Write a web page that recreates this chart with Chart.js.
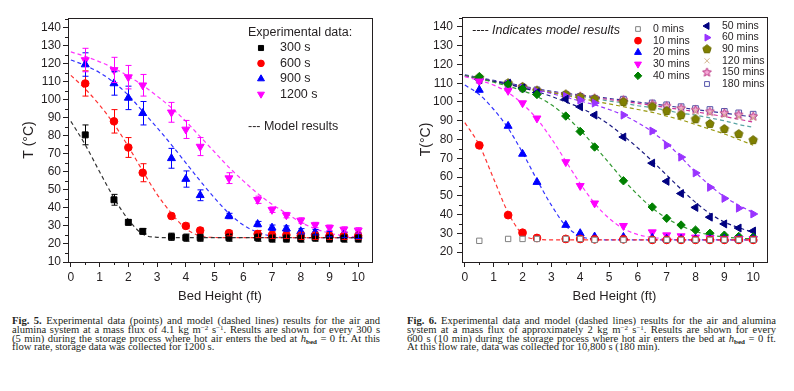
<!DOCTYPE html>
<html>
<head>
<meta charset="utf-8">
<script src="https://cdn.jsdelivr.net/npm/chart.js@4.4.1/dist/chart.umd.min.js"></script>
<style>
  body { margin: 0; background: #fff; width: 794px; height: 391px; overflow: hidden; position: relative; }
  canvas { position: absolute; top: 0; }
  #c5 { left: 0; }
  #c6 { left: 397px; }
  .cap { position: absolute; top: 317px; font-family: "Liberation Serif", "Times New Roman", serif; font-size: 10.6px; line-height: 8.8px; color: #231f20; }
  .cap div { text-align: justify; text-align-last: justify; height: 8.8px; white-space: nowrap; }
  .cap div.last { text-align-last: left; }
  .cap sup { font-size: 7px; line-height: 0; vertical-align: 3px; }
  .cap sub { font-size: 7px; line-height: 0; vertical-align: -1.5px; font-weight: bold; }
</style>
</head>
<body>
<canvas id="c5" width="397" height="305"></canvas>
<canvas id="c6" width="397" height="305"></canvas>

<div class="cap" style="left:12px; width:368px;">
  <div><b>Fig. 5.</b> Experimental data (points) and model (dashed lines) results for the air and</div>
  <div>alumina system at a mass flux of 4.1 kg m<sup>−2</sup> s<sup>−1</sup>. Results are shown for every 300 s</div>
  <div>(5 min) during the storage process where hot air enters the bed at <i>h</i><sub>bed</sub> = 0 ft. At this</div>
  <div class="last">flow rate, storage data was collected for 1200 s.</div>
</div>
<div class="cap" style="left:407px; width:369px;">
  <div><b>Fig. 6.</b> Experimental data and model (dashed lines) results for the air and alumina</div>
  <div>system at a mass flux of approximately 2 kg m<sup>−2</sup> s<sup>−1</sup>. Results are shown for every</div>
  <div>600 s (10 min) during the storage process where hot air enters the bed at <i>h</i><sub>bed</sub> = 0 ft.</div>
  <div class="last">At this flow rate, data was collected for 10,800 s (180 min).</div>
</div>

<script>
// ---- data ----
const ptX = [0.5, 1.5, 2, 2.5, 3.5, 4, 4.5, 5.5, 6.5, 7, 7.5, 8, 8.5, 9, 9.5, 10];
const modelX = [0, 0.5, 1, 1.5, 2, 2.5, 3, 3.5, 4, 4.5, 5, 5.5, 6, 6.5, 7, 7.5, 8, 8.5, 9, 9.5, 10];
const xTicks = [0, 1, 2, 3, 4, 5, 6, 7, 8, 9, 10];
const yTicks5 = [10, 20, 30, 40, 50, 60, 70, 80, 90, 100, 110, 120, 130, 140];
const yTicks6 = [20, 30, 40, 50, 60, 70, 80, 90, 100, 110, 120, 130, 140];

// Fig. 5 (experimental, with error bars)
const t300 = [80.5, 44.5, 32, 27, 24, 23.5, 23.5, 23.5, 23.5, 23, 23, 23, 23.5, 23, 23, 23];
const e300 = [5.5, 3, 1.5, 1.5, 2, 2, 2, 2, 2, 2, 2, 2, 2, 2, 2, 2];
const t600 = [109, 88, 73.5, 59.5, 35.5, 30, 27.5, 26, 25.5, 25, 25, 24.5, 24.5, 24.5, 24.5, 24.5];
const e600 = [7, 6.5, 5.5, 5, 1.5, 1.5, 1.5, 1.5, 2, 2, 2, 2, 2, 2, 2, 2];
const t900 = [119.5, 109, 101, 92.5, 67.5, 56, 47, 35.5, 31, 29, 28.5, 27, 26.5, 25.5, 25, 24.5];
const e900 = [6.5, 6.5, 6.5, 6.5, 5.5, 4.5, 3, 1.5, 1.5, 1.5, 1.5, 1.5, 1.5, 1.5, 1.5, 1.5];
const t1200 = [122, 116.5, 112.5, 108, 93, 83.5, 74, 56.5, 44.5, 39, 36, 33, 30.5, 29, 28, 27.5];
const e1200 = [6.5, 7, 6.5, 6, 5.5, 5, 5, 3, 2, 1.5, 1.5, 1.5, 1.5, 1.5, 1.5, 1.5];
// Fig. 5 model
const m300 = [88, 75, 60, 45.5, 33.5, 25.5, 23.7, 23.5, 23.5, 23.5, 23.5, 23.5, 23.5, 23.5, 23.5, 23.5, 23.5, 23.5, 23.5, 23.5, 23.5];
const m600 = [113.5, 106, 97, 86.5, 74, 60.5, 47.5, 37, 28.5, 24.5, 23.6, 23.5, 23.5, 23.5, 23.5, 23.5, 23.5, 23.5, 23.5, 23.5, 23.5];
const m900 = [122, 119, 115, 109.5, 102.5, 93.5, 84.5, 75, 65, 55, 45.5, 37, 30.5, 26.5, 24.3, 23.6, 23.5, 23.5, 23.5, 23.5, 23.5];
const m1200 = [126.5, 124, 121, 117.5, 113, 108, 102, 95.5, 88, 79.5, 71, 62.5, 55, 48, 42, 37, 32, 28.5, 26, 24.5, 23.8];

// Fig. 6 (experimental)
const d0 = [26, 27, 27, 27, 27, 27, 26.5, 26.5, 26.5, 26.5, 26.5, 26.5, 26.5, 26.5, 26.5, 26.5];
const d10 = [76.9, 39.7, 30.3, 27.5, 27, 27, 26.8, 26.8, 26.5, 26.5, 26.5, 26.5, 26.5, 26.5, 26.5, 26.5];
const d20 = [106.4, 87.2, 72.3, 57.3, 34.4, 30, 28.2, 28, 27.5, 27, 27, 27, 27, 27, 27, 27];
const d30 = [111, 106, 99.4, 91.3, 68, 55.3, 46, 34, 30.6, 29, 28.5, 27.8, 27.5, 27, 27, 27];
const d40 = [113.5, 109.5, 107, 104, 92.5, 84.3, 76, 58, 44, 38, 34.4, 31.7, 30, 29, 28.3, 28];
const d50 = [112, 110, 107.5, 105, 101.5, 97.4, 93, 81.3, 67.4, 57.7, 51.2, 43.8, 38.6, 35, 32.8, 31.2];
const d60 = [112, 109.5, 107.5, 105.5, 103, 101, 99.4, 93, 84.5, 77, 70.6, 62.2, 54.5, 48.6, 43.4, 40.3];
const d90 = [113, 110, 108, 106, 104, 102.5, 101.5, 100, 97.5, 95.2, 93, 90.8, 88.3, 85.6, 82.9, 79.7];
const d120 = [112.5, 109.5, 107.5, 105.5, 103.5, 102.5, 101.5, 100.5, 98, 97, 96, 95, 94, 93, 92, 91.5];
const d150 = [112, 109.5, 108, 106, 104, 103, 102, 101, 98.8, 97.8, 96.6, 95.7, 94.8, 94, 93.1, 92.3];
const d180 = [112.5, 110, 108, 106.5, 104, 103, 102, 101.5, 99.5, 98.5, 97.5, 96.5, 96, 95, 94.2, 93.5];
// Fig. 6 model
const r10 = [89, 77, 59, 41, 29.5, 26.8, 26.5, 26.5, 26.5, 26.5, 26.5, 26.5, 26.5, 26.5, 26.5, 26.5, 26.5, 26.5, 26.5, 26.5, 26.5];
const r20 = [109, 104, 96, 86, 73, 58.5, 45, 34, 28.5, 26.8, 26.5, 26.5, 26.5, 26.5, 26.5, 26.5, 26.5, 26.5, 26.5, 26.5, 26.5];
const r30 = [113.5, 111.5, 109, 105, 99, 91, 80.5, 68.5, 56.5, 46, 38, 32.5, 29.3, 27.8, 27, 26.5, 26.5, 26.5, 26.5, 26.5, 26.5];
const r40 = [114, 112.5, 110.5, 108.5, 106, 103, 98.5, 92.5, 85, 76.5, 67.5, 58.5, 50.5, 43.5, 38, 34, 31, 29.2, 28, 27.4, 27];
const r50 = [114, 112.5, 111, 109.5, 107.5, 105.5, 103, 100, 97, 93, 88, 82, 75.5, 68.5, 61, 53.5, 46.5, 40.5, 36, 33, 30.5];
const r60 = [114, 112.5, 111, 109.5, 108, 106.5, 104.5, 102.5, 100.5, 98.5, 96, 93, 89, 84, 78, 70.5, 62.5, 55.5, 49.5, 45, 41];
const r90 = [114, 112.5, 111, 109.5, 108, 106.5, 105, 103.5, 102, 100.5, 99, 97.5, 96, 94.5, 92.5, 90.5, 88, 85.5, 83, 80, 77];
const r120 = [114, 112.5, 111, 109.5, 108, 106.5, 105, 104, 103, 102, 100.5, 99.5, 98, 97, 95.5, 94, 93, 91.5, 90, 88, 86.5];
const r150 = [114, 112.5, 111, 109.5, 108, 106.5, 105.2, 104.2, 103.2, 102.3, 101.3, 100.3, 99.3, 98.2, 97, 96, 94.8, 93.5, 92.2, 90.8, 89.3];
const r180 = [114.5, 113, 111.5, 110, 108.5, 107, 105.7, 104.7, 103.7, 102.8, 101.9, 101, 100, 99, 98, 97, 96, 95, 94, 93, 92];

Chart.defaults.font.family = '"Liberation Sans", Arial, sans-serif';
Chart.defaults.color = '#231f20';
const H = Chart.helpers;

// custom marker shapes
function polyMarker(n, r, inner, fill, stroke) {
  const c = document.createElement('canvas');
  const s = Math.ceil(2 * r + 3);
  c.width = s; c.height = s;
  const g = c.getContext('2d');
  g.beginPath();
  const k = inner ? 2 * n : n;
  for (let i = 0; i < k; i++) {
    const a = -Math.PI / 2 + i * 2 * Math.PI / k;
    const rr = inner && i % 2 ? r * inner : r;
    g.lineTo(s / 2 + rr * Math.cos(a), s / 2 + rr * Math.sin(a));
  }
  g.closePath();
  g.fillStyle = fill; g.fill();
  g.strokeStyle = stroke; g.lineWidth = 1; g.stroke();
  return c;
}
const pentagon = polyMarker(5, 4.4, 0, '#808000', '#6b6b00');
const star = polyMarker(5, 4.6, 0.45, '#f7a8d8', '#b8307f');

function pts(label, xs, ys, color, style, radius, extra) {
  return Object.assign({
    kind: 'pts', label: label,
    data: xs.map((x, i) => ({ x: x, y: ys[i] })),
    showLine: false,
    pointStyle: style, pointRadius: radius,
    backgroundColor: color, borderColor: color,
    pointBackgroundColor: color, pointBorderColor: color, pointBorderWidth: 1,
    order: 0
  }, extra || {});
}
function model(ys, color) {
  return {
    kind: 'model',
    data: modelX.map((x, i) => ({ x: x, y: ys[i] })),
    showLine: true, pointRadius: 0, borderColor: color, borderWidth: 1.2,
    borderDash: [4, 3], cubicInterpolationMode: 'monotone', fill: false, order: 1
  };
}

// frame, minor ticks, error bars, legend
const decor = {
  id: 'decor',
  afterDatasetsDraw(chart, args, o) {
    const ctx = chart.ctx;
    const ys = chart.scales.y;
    ctx.save();
    chart.data.datasets.forEach((d, i) => {
      if (!d.err) return;
      const meta = chart.getDatasetMeta(i);
      ctx.strokeStyle = d.borderColor; ctx.lineWidth = 1;
      meta.data.forEach((el, j) => {
        const v = d.data[j].y, e = d.err[j];
        const y1 = ys.getPixelForValue(v + e), y2 = ys.getPixelForValue(v - e);
        const x = Math.round(el.x) + 0.5;
        ctx.beginPath();
        ctx.moveTo(x, y1); ctx.lineTo(x, y2);
        ctx.moveTo(x - 3, y1); ctx.lineTo(x + 3, y1);
        ctx.moveTo(x - 3, y2); ctx.lineTo(x + 3, y2);
        ctx.stroke();
      });
    });
    ctx.restore();
  },
  afterDraw(chart, args, o) {
    const ctx = chart.ctx, a = chart.chartArea;
    const xs = chart.scales.x, ys = chart.scales.y;
    ctx.save();
    ctx.strokeStyle = '#231f20'; ctx.lineWidth = 1;
    ctx.strokeRect(Math.round(a.left) + 0.5, Math.round(a.top) + 0.5, Math.round(a.right - a.left), Math.round(a.bottom - a.top));
    // minor ticks
    ctx.beginPath();
    for (let v = 0.5; v < xs.max; v += 1) {
      const x = Math.round(xs.getPixelForValue(v)) + 0.5;
      ctx.moveTo(x, a.bottom); ctx.lineTo(x, a.bottom + 3);
    }
    for (let v = o.yMinorStart; v < ys.max; v += 10) {
      const y = Math.round(ys.getPixelForValue(v)) + 0.5;
      ctx.moveTo(a.left, y); ctx.lineTo(a.left - 3, y);
    }
    ctx.stroke();
    // legend
    const fam = 'px "Liberation Sans", Arial, sans-serif';
    ctx.fillStyle = '#231f20';
    ctx.textBaseline = 'middle';
    ctx.textAlign = 'left';
    if (o.title) {
      ctx.font = o.font + fam;
      ctx.fillText(o.title, o.tx, o.ty);
    }
    ctx.font = (o.italic ? 'italic ' : '') + o.noteFont + fam;
    ctx.fillText(o.note, o.nx, o.ny);
    ctx.font = o.font + fam;
    const items = chart.data.datasets.filter(d => d.kind === 'pts');
    let k = 0;
    o.cols.forEach(col => {
      for (let r = 0; r < col.n; r++, k++) {
        const d = items[k];
        if (!d) continue;
        const y = col.y0 + r * col.dy;
        ctx.fillStyle = d.pointBackgroundColor;
        ctx.strokeStyle = d.pointBorderColor;
        ctx.lineWidth = d.pointBorderWidth;
        H.drawPoint(ctx, { pointStyle: d.pointStyle, rotation: d.pointRotation || 0, radius: d.legendRadius || d.pointRadius, borderWidth: d.pointBorderWidth }, col.mx, y);
        ctx.fillStyle = '#231f20';
        ctx.fillText(d.label, col.lx, y);
      }
    });
    ctx.restore();
  }
};

function scales(yMin, yTicks, yTitle, yWidth, yPad) {
  const tickFont = { size: 12 };
  return {
    x: {
      type: 'linear', min: -0.1, max: 10.48,
      afterBuildTicks: s => { s.ticks = xTicks.map(v => ({ value: v })); },
      afterFit: s => { s.height = 43; },
      grid: { drawOnChartArea: false, drawTicks: true, tickLength: 5, color: '#231f20' },
      border: { color: '#231f20', width: 1 },
      ticks: { font: tickFont, color: '#231f20', padding: 3, maxRotation: 0 },
      title: { display: true, text: 'Bed Height (ft)', font: { size: 13 }, color: '#231f20', padding: { top: 0, bottom: 1 } }
    },
    y: {
      type: 'linear', min: yMin, max: 145.3,
      afterBuildTicks: s => { s.ticks = yTicks.map(v => ({ value: v })); },
      afterFit: s => { s.width = yWidth; },
      grid: { drawOnChartArea: false, drawTicks: true, tickLength: 5, color: '#231f20' },
      border: { color: '#231f20', width: 1 },
      ticks: { font: tickFont, color: '#231f20', padding: yPad },
      title: { display: true, text: yTitle, font: { size: 14 }, color: '#231f20', padding: { top: 21, bottom: 0 } }
    }
  };
}

// Fig. 5
new Chart(document.getElementById('c5'), {
  type: 'scatter',
  data: {
    datasets: [
      pts('300 s', ptX, t300, '#000000', 'rect', 4.2, { err: e300, legendRadius: 3.6 }),
      pts('600 s', ptX, t600, '#ff0000', 'circle', 3.8, { err: e600, legendRadius: 3.3 }),
      pts('900 s', ptX, t900, '#0000ff', 'triangle', 4.6, { err: e900, legendRadius: 4 }),
      pts('1200 s', ptX, t1200, '#ff00ff', 'triangle', 4.6, { err: e1200, pointRotation: 180, legendRadius: 4 }),
      model(m300, '#333333'),
      model(m600, '#ff3333'),
      model(m900, '#3333ff'),
      model(m1200, '#ff33ff')
    ]
  },
  options: {
    responsive: false, animation: false, devicePixelRatio: 1,
    layout: { padding: { left: 0, top: 18, right: 25, bottom: 0 } },
    plugins: {
      legend: { display: false }, tooltip: { enabled: false },
      decor: {
        yMinorStart: 15, font: 12.5, noteFont: 12.5,
        title: 'Experimental data:', tx: 248, ty: 33,
        note: '--- Model results', nx: 248, ny: 127, italic: false,
        cols: [{ mx: 261, lx: 280, y0: 48, dy: 15.4, n: 4 }]
      }
    },
    scales: scales(10, yTicks5, 'T (°C)', 68, 2)
  },
  plugins: [decor]
});

// Fig. 6
new Chart(document.getElementById('c6'), {
  type: 'scatter',
  data: {
    datasets: [
      pts('0 mins', ptX, d0, '#ffffff', 'rect', 3.8, { pointBorderColor: '#808080', borderColor: '#808080', legendRadius: 3.3 }),
      pts('10 mins', ptX, d10, '#ff0000', 'circle', 3.9, { legendRadius: 3.4 }),
      pts('20 mins', ptX, d20, '#0000ff', 'triangle', 4.6, { legendRadius: 4 }),
      pts('30 mins', ptX, d30, '#ff00ff', 'triangle', 4.6, { pointRotation: 180, legendRadius: 4 }),
      pts('40 mins', ptX, d40, '#008000', 'rectRot', 4.2, { legendRadius: 3.8 }),
      pts('50 mins', ptX, d50, '#000080', 'triangle', 4.6, { pointRotation: -90, legendRadius: 4 }),
      pts('60 mins', ptX, d60, '#9933ff', 'triangle', 4.6, { pointRotation: 90, legendRadius: 4 }),
      pts('90 mins', ptX, d90, '#808000', pentagon, 4.4),
      pts('120 mins', ptX, d120, '#d2b48c', 'crossRot', 4, { legendRadius: 3.6 }),
      pts('150 mins', ptX, d150, '#b8307f', star, 4.6),
      pts('180 mins', ptX, d180, '#ffffff', 'rect', 4, { pointBorderColor: '#5555aa', borderColor: '#5555aa', legendRadius: 3.4 }),
      model(r10, '#ff3333'),
      model(r20, '#3333ff'),
      model(r30, '#ff33ff'),
      model(r40, '#339933'),
      model(r50, '#1a1a80'),
      model(r60, '#9933ff'),
      model(r90, '#99990f'),
      model(r120, '#5aa5a5'),
      model(r150, '#cc3399'),
      model(r180, '#333399')
    ]
  },
  options: {
    responsive: false, animation: false, devicePixelRatio: 1,
    layout: { padding: { left: 0, top: 17, right: 27, bottom: 0 } },
    plugins: {
      legend: { display: false }, tooltip: { enabled: false },
      decor: {
        yMinorStart: 25, font: 10.5, noteFont: 12.5,
        note: '---- Indicates model results', nx: 75, ny: 31, italic: true,
        cols: [
          { mx: 241, lx: 256, y0: 29, dy: 11.7, n: 5 },
          { mx: 310, lx: 325, y0: 26, dy: 11.6, n: 6 }
        ]
      }
    },
    scales: scales(14.7, yTicks6, 'T(°C)', 65, 4)
  },
  plugins: [decor]
});
</script>
</body>
</html>
